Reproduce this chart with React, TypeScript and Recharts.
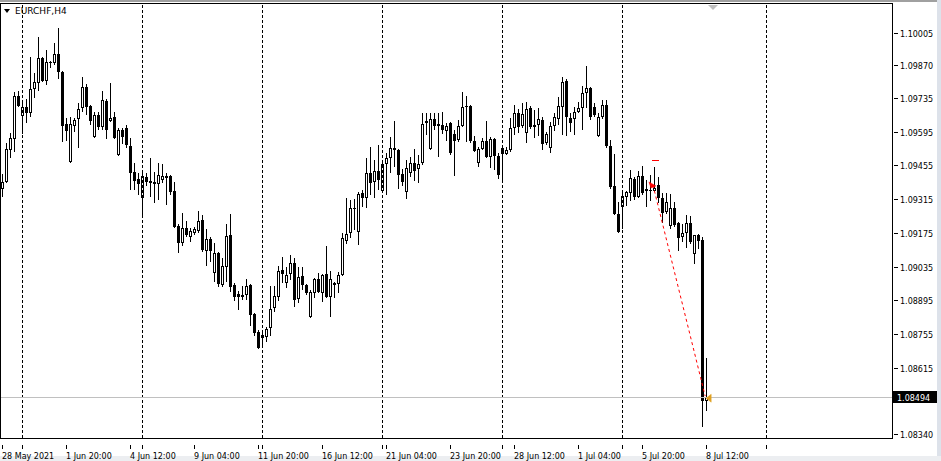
import { ComposedChart, Bar, XAxis, YAxis, ReferenceLine, ReferenceDot } from "recharts";

// EURCHF H4 candles, 28 May 2021 08:00 .. 8 Jul 2021 12:00
const opens = [
  1.09357, 1.09386, 1.09519, 1.09565, 1.09743, 1.09660, 1.09697, 1.09672, 1.09772, 1.09797,
  1.09901, 1.09805, 1.09884, 1.09880, 1.09917, 1.09843, 1.09627, 1.09469, 1.09619, 1.09648,
  1.09693, 1.09780, 1.09702, 1.09573, 1.09664, 1.09614, 1.09722, 1.09639, 1.09656, 1.09498,
  1.09602, 1.09610, 1.09536, 1.09428, 1.09399, 1.09320, 1.09407, 1.09391, 1.09386, 1.09378,
  1.09395, 1.09411, 1.09411, 1.09349, 1.09204, 1.09134, 1.09196, 1.09158, 1.09175, 1.09183,
  1.09229, 1.09100, 1.09150, 1.09009, 1.09092, 1.08959, 1.09034, 1.09167, 1.08959, 1.08922,
  1.08918, 1.08918, 1.08959, 1.08839, 1.08765, 1.08740, 1.08744, 1.08781, 1.08864, 1.08910,
  1.09022, 1.08968, 1.09005, 1.09051, 1.08901, 1.08997, 1.08959, 1.08827, 1.08926, 1.08984,
  1.08926, 1.09005, 1.08910, 1.08968, 1.08964, 1.09001, 1.09142, 1.09175, 1.09274, 1.09179,
  1.09341, 1.09320, 1.09424, 1.09386, 1.09432, 1.09349, 1.09461, 1.09486, 1.09519, 1.09519,
  1.09420, 1.09345, 1.09424, 1.09465, 1.09440, 1.09465, 1.09631, 1.09523, 1.09648, 1.09627,
  1.09623, 1.09598, 1.09631, 1.09585, 1.09561, 1.09619, 1.09697, 1.09702, 1.09556, 1.09465,
  1.09523, 1.09556, 1.09490, 1.09565, 1.09494, 1.09527, 1.09503, 1.09519, 1.09610, 1.09672,
  1.09619, 1.09590, 1.09693, 1.09623, 1.09623, 1.09644, 1.09548, 1.09527, 1.09619, 1.09648,
  1.09697, 1.09805, 1.09652, 1.09648, 1.09677, 1.09693, 1.09755, 1.09776, 1.09697, 1.09577,
  1.09656, 1.09706, 1.09536, 1.09370, 1.09254, 1.09283, 1.09324, 1.09341, 1.09399, 1.09324,
  1.09411, 1.09357, 1.09353, 1.09349, 1.09374, 1.09320, 1.09262, 1.09204, 1.09279, 1.09216,
  1.09158, 1.09175, 1.09216, 1.09088, 1.09167, 1.09146, 1.08479,
];
const highs = [
  1.09420, 1.09548, 1.09590, 1.09760, 1.09764, 1.09726, 1.09730, 1.09905, 1.09838, 1.09988,
  1.09905, 1.09934, 1.09888, 1.09963, 1.10025, 1.09847, 1.09652, 1.09656, 1.09652, 1.09714,
  1.09822, 1.09793, 1.09706, 1.09677, 1.09677, 1.09764, 1.09730, 1.09797, 1.09677, 1.09610,
  1.09610, 1.09623, 1.09569, 1.09465, 1.09424, 1.09424, 1.09424, 1.09486, 1.09428, 1.09465,
  1.09461, 1.09424, 1.09415, 1.09386, 1.09212, 1.09258, 1.09225, 1.09196, 1.09200, 1.09266,
  1.09250, 1.09192, 1.09158, 1.09134, 1.09096, 1.09071, 1.09212, 1.09254, 1.08968, 1.08935,
  1.08955, 1.08984, 1.08964, 1.08843, 1.08773, 1.08769, 1.08785, 1.08955, 1.08955, 1.09038,
  1.09076, 1.09034, 1.09084, 1.09071, 1.09034, 1.09034, 1.08964, 1.08939, 1.08988, 1.09009,
  1.09005, 1.09121, 1.09017, 1.08972, 1.09013, 1.09175, 1.09320, 1.09312, 1.09316, 1.09345,
  1.09353, 1.09486, 1.09532, 1.09478, 1.09540, 1.09478, 1.09507, 1.09573, 1.09639, 1.09523,
  1.09440, 1.09478, 1.09490, 1.09523, 1.09498, 1.09672, 1.09672, 1.09672, 1.09672, 1.09672,
  1.09677, 1.09631, 1.09635, 1.09602, 1.09644, 1.09760, 1.09743, 1.09706, 1.09577, 1.09532,
  1.09569, 1.09639, 1.09573, 1.09569, 1.09507, 1.09532, 1.09532, 1.09652, 1.09706, 1.09689,
  1.09714, 1.09718, 1.09702, 1.09685, 1.09693, 1.09656, 1.09594, 1.09635, 1.09672, 1.09739,
  1.09822, 1.09813, 1.09672, 1.09697, 1.09718, 1.09784, 1.09867, 1.09780, 1.09714, 1.09672,
  1.09726, 1.09726, 1.09561, 1.09503, 1.09304, 1.09345, 1.09349, 1.09436, 1.09407, 1.09432,
  1.09453, 1.09395, 1.09415, 1.09449, 1.09407, 1.09341, 1.09341, 1.09337, 1.09304, 1.09221,
  1.09212, 1.09250, 1.09246, 1.09167, 1.09171, 1.09158, 1.08657,
];
const lows = [
  1.09324, 1.09382, 1.09486, 1.09511, 1.09697, 1.09585, 1.09631, 1.09656, 1.09735, 1.09764,
  1.09801, 1.09789, 1.09859, 1.09872, 1.09813, 1.09552, 1.09556, 1.09465, 1.09594, 1.09527,
  1.09677, 1.09664, 1.09623, 1.09569, 1.09602, 1.09602, 1.09565, 1.09635, 1.09565, 1.09494,
  1.09544, 1.09527, 1.09353, 1.09353, 1.09333, 1.09241, 1.09370, 1.09324, 1.09299, 1.09312,
  1.09382, 1.09291, 1.09333, 1.09196, 1.09092, 1.09121, 1.09158, 1.09138, 1.09167, 1.09175,
  1.09096, 1.09038, 1.09055, 1.08972, 1.08951, 1.08951, 1.08972, 1.08930, 1.08893, 1.08856,
  1.08897, 1.08897, 1.08789, 1.08748, 1.08694, 1.08698, 1.08723, 1.08748, 1.08847, 1.08893,
  1.08968, 1.08947, 1.08980, 1.08868, 1.08885, 1.08939, 1.08918, 1.08823, 1.08906, 1.08926,
  1.08889, 1.08906, 1.08827, 1.08906, 1.08926, 1.08997, 1.09129, 1.09154, 1.09187, 1.09125,
  1.09283, 1.09279, 1.09333, 1.09320, 1.09353, 1.09341, 1.09333, 1.09424, 1.09449, 1.09357,
  1.09370, 1.09316, 1.09407, 1.09391, 1.09382, 1.09457, 1.09581, 1.09519, 1.09602, 1.09490,
  1.09585, 1.09556, 1.09498, 1.09411, 1.09552, 1.09614, 1.09552, 1.09548, 1.09511, 1.09449,
  1.09519, 1.09486, 1.09444, 1.09436, 1.09399, 1.09395, 1.09498, 1.09511, 1.09581, 1.09590,
  1.09610, 1.09548, 1.09606, 1.09569, 1.09577, 1.09519, 1.09540, 1.09507, 1.09598, 1.09623,
  1.09581, 1.09577, 1.09594, 1.09581, 1.09672, 1.09602, 1.09693, 1.09644, 1.09656, 1.09573,
  1.09648, 1.09527, 1.09357, 1.09250, 1.09175, 1.09192, 1.09287, 1.09308, 1.09312, 1.09320,
  1.09333, 1.09283, 1.09308, 1.09345, 1.09299, 1.09216, 1.09254, 1.09192, 1.09200, 1.09100,
  1.09138, 1.09113, 1.09129, 1.09046, 1.09109, 1.08371, 1.08437,
];
const closes = [
  1.09386, 1.09523, 1.09569, 1.09743, 1.09702, 1.09697, 1.09672, 1.09772, 1.09801, 1.09901,
  1.09805, 1.09884, 1.09880, 1.09917, 1.09843, 1.09619, 1.09598, 1.09627, 1.09644, 1.09689,
  1.09780, 1.09697, 1.09639, 1.09664, 1.09614, 1.09726, 1.09602, 1.09652, 1.09569, 1.09602,
  1.09573, 1.09540, 1.09424, 1.09391, 1.09378, 1.09411, 1.09386, 1.09382, 1.09378, 1.09415,
  1.09411, 1.09403, 1.09345, 1.09200, 1.09134, 1.09196, 1.09167, 1.09183, 1.09192, 1.09225,
  1.09105, 1.09150, 1.09100, 1.09092, 1.08964, 1.09038, 1.09163, 1.08951, 1.08910, 1.08910,
  1.08910, 1.08955, 1.08835, 1.08760, 1.08698, 1.08752, 1.08777, 1.08860, 1.08914, 1.09017,
  1.09005, 1.09001, 1.09051, 1.08897, 1.08993, 1.08959, 1.08926, 1.08930, 1.08984, 1.08930,
  1.09001, 1.08910, 1.08984, 1.08959, 1.09001, 1.09154, 1.09171, 1.09279, 1.09279, 1.09337,
  1.09320, 1.09424, 1.09382, 1.09432, 1.09395, 1.09461, 1.09486, 1.09527, 1.09527, 1.09415,
  1.09386, 1.09444, 1.09465, 1.09432, 1.09461, 1.09627, 1.09639, 1.09648, 1.09619, 1.09619,
  1.09602, 1.09619, 1.09507, 1.09556, 1.09619, 1.09697, 1.09702, 1.09556, 1.09515, 1.09523,
  1.09556, 1.09490, 1.09565, 1.09494, 1.09415, 1.09503, 1.09519, 1.09610, 1.09672, 1.09614,
  1.09668, 1.09689, 1.09614, 1.09614, 1.09648, 1.09544, 1.09585, 1.09619, 1.09656, 1.09702,
  1.09801, 1.09656, 1.09631, 1.09677, 1.09693, 1.09755, 1.09776, 1.09656, 1.09664, 1.09656,
  1.09706, 1.09536, 1.09366, 1.09254, 1.09179, 1.09328, 1.09345, 1.09403, 1.09324, 1.09411,
  1.09341, 1.09349, 1.09349, 1.09362, 1.09320, 1.09258, 1.09304, 1.09279, 1.09208, 1.09154,
  1.09175, 1.09216, 1.09138, 1.09167, 1.09142, 1.08479, 1.08494,
];

// bars + empty shift area on the right
const slotCount = 223;
const dateTickIndex = [0, 16, 32, 48, 64, 80, 96, 112, 128, 144, 160, 176];
const dateTickLabels = [
  "28 May 2021", "1 Jun 20:00", "4 Jun 12:00", "9 Jun 04:00", "11 Jun 20:00", "16 Jun 12:00",
  "21 Jun 04:00", "23 Jun 20:00", "28 Jun 12:00", "1 Jul 04:00", "5 Jul 20:00", "8 Jul 12:00",
];
const weekSeparators = [5, 35, 65, 95, 125, 155, 191];
const priceTicks = [
  1.10005, 1.0987, 1.09735, 1.09595, 1.09455, 1.09315, 1.09175, 1.09035, 1.08895, 1.08755, 1.08615, 1.0834,
];
const priceDomain = [1.08325, 1.10128];
const lastPrice = 1.08494;
// closed sell order: open point -> close point, plus its stop level marker
const tradeIndex = [162.5, 175.5];
const tradePrice = [1.09374, 1.08499];
const stopIndex = [162.25, 164];
const stopPrice = 1.09474;

const FONT = "'DejaVu Sans', sans-serif";

const rows = Array.from({ length: slotCount }, (_, i) =>
  i < opens.length
    ? { i, open: opens[i], high: highs[i], low: lows[i], close: closes[i], range: [lows[i], highs[i]] }
    : { i }
);

function Candle(props: any) {
  const { x, y, width, height, payload } = props;
  if (!payload || payload.open == null || height == null || isNaN(y)) return null;
  const { open, high, low, close } = payload;
  const top = Math.min(y, y + height);
  const h = Math.abs(height);
  const k = h / (high - low);
  const py = (p: number) => top + (high - p) * k;
  const cx = Math.round(x + width / 2);
  const wTop = Math.round(top);
  const wBot = Math.round(top + h);
  const bTop = Math.round(py(Math.max(open, close)));
  const bBot = Math.round(py(Math.min(open, close)));
  const bh = Math.max(1, bBot - bTop);
  return (
    <g shapeRendering="crispEdges">
      <rect x={cx} y={wTop} width={1} height={Math.max(1, wBot - wTop)} fill="#000" />
      <rect x={cx - 1} y={bTop} width={3} height={bh} fill="#000" />
      {close > open && bh > 2 && <rect x={cx} y={bTop + 1} width={1} height={bh - 2} fill="#fff" />}
    </g>
  );
}

function DateTick(props: any) {
  const { x, y, payload } = props;
  const idx = payload.value as number;
  const li = dateTickIndex.indexOf(idx);
  if (li < 0 && !weekSeparators.includes(idx)) return null;
  const px = Math.round(x);
  return (
    <g>
      <rect x={px} y={y - 1} width={1} height={4} fill="#000" shapeRendering="crispEdges" />
      {li >= 0 && (
        <text x={px} y={y + 13} fontSize={8} fontFamily={FONT} fill="#000" textAnchor="start">
          {dateTickLabels[li]}
        </text>
      )}
    </g>
  );
}

function PriceTick(props: any) {
  const { x, y, payload } = props;
  const py = Math.round(y);
  return (
    <g>
      <rect x={x - 6} y={py} width={4} height={1} fill="#000" shapeRendering="crispEdges" />
      <text x={x} y={py + 3.5} fontSize={8} fontFamily={FONT} fill="#000" textAnchor="start">
        {Number(payload.value).toFixed(5)}
      </text>
    </g>
  );
}

function PriceTag(props: any) {
  const vb = props.viewBox || {};
  const right = vb.x + vb.width;
  const yy = Math.round(vb.y);
  return (
    <g>
      <rect x={right + 1} y={yy - 6} width={44} height={12} fill="#000" shapeRendering="crispEdges" />
      <text x={right + 5} y={yy + 3.5} fontSize={8} fontFamily={FONT} fill="#fff">
        {lastPrice.toFixed(5)}
      </text>
    </g>
  );
}

function Arrow(props: any) {
  const { cx, cy, tone, dir } = props;
  if (cx == null || cy == null) return null;
  const d = dir === "left"
    ? `M${cx - 3},${cy} L${cx + 2},${cy - 4} L${cx + 2},${cy + 4} Z`
    : `M${cx - 4},${cy - 3} L${cx + 3},${cy + 1} L${cx - 2},${cy + 3} Z`;
  return <path d={d} fill={tone} stroke={tone} strokeWidth={0.5} />;
}

export default function App() {
  return (
    <div style={{ position: "fixed", left: 0, top: 0, width: 941, height: 461, background: "#fff", overflow: "hidden" }}>
      <div style={{ position: "absolute", left: 0, top: 0, width: 941, height: 2, background: "#a0a0a0" }} />
      <div style={{ position: "absolute", left: 937, top: 0, width: 4, height: 461, background: "#dde2ea" }} />
      <div style={{ position: "absolute", left: 0, top: 456, width: 941, height: 5, background: "#eceef1" }} />
      <div style={{ position: "absolute", left: 0, top: 0 }}>
        <ComposedChart
          width={941}
          height={461}
          data={rows}
          margin={{ top: 3, right: 0, bottom: 0, left: 0 }}
          barCategoryGap={0}
        >
          <XAxis
            dataKey="i"
            type="category"
            height={23}
            interval={0}
            axisLine={false}
            tickLine={false}
            tick={<DateTick />}
          />
          <XAxis xAxisId="pos" type="number" domain={[-0.5, slotCount - 0.5]} hide />
          <YAxis
            orientation="right"
            type="number"
            width={49}
            domain={priceDomain}
            allowDataOverflow
            ticks={priceTicks}
            interval={0}
            axisLine={false}
            tickLine={false}
            tick={<PriceTick />}
          />
          {weekSeparators.map((w) => (
            <ReferenceLine key={w} x={w} stroke="#000" strokeDasharray="3 2" shapeRendering="crispEdges" />
          ))}
          <ReferenceLine y={lastPrice} stroke="#c0c0c0" shapeRendering="crispEdges" label={<PriceTag />} />
          <Bar dataKey="range" barSize={4} isAnimationActive={false} shape={<Candle />} />
          <ReferenceLine
            xAxisId="pos"
            segment={[{ x: tradeIndex[0], y: tradePrice[0] }, { x: tradeIndex[1], y: tradePrice[1] }]}
            stroke="#ff0000"
            strokeDasharray="3 3"
          />
          <ReferenceLine
            xAxisId="pos"
            segment={[{ x: stopIndex[0], y: stopPrice }, { x: stopIndex[1], y: stopPrice }]}
            stroke="#ff0000"
            shapeRendering="crispEdges"
          />
          <ReferenceDot xAxisId="pos" x={tradeIndex[0]} y={tradePrice[0]} r={3} shape={(p: any) => <Arrow {...p} tone="#ff0000" dir="down" />} />
          <ReferenceDot xAxisId="pos" x={tradeIndex[1] + 1} y={lastPrice - 0.00004} r={3} shape={(p: any) => <Arrow {...p} tone="#e0a020" dir="left" />} />
        </ComposedChart>
      </div>
      {/* chart frame */}
      <div style={{ position: "absolute", left: 0, top: 3, width: 893, height: 436, boxSizing: "border-box", border: "1px solid #000", pointerEvents: "none" }} />
      {/* chart shift marker */}
      <div style={{ position: "absolute", left: 708, top: 5, width: 0, height: 0, borderLeft: "5px solid transparent", borderRight: "5px solid transparent", borderTop: "5px solid #c0c0c0" }} />
      <div style={{ position: "absolute", left: 4, top: 9, width: 0, height: 0, borderLeft: "3px solid transparent", borderRight: "3px solid transparent", borderTop: "4px solid #000" }} />
      <div style={{ position: "absolute", left: 15, top: 5, fontFamily: FONT, fontSize: 9, color: "#000", lineHeight: "12px" }}>
        {"EURCHF,H4"}
      </div>
    </div>
  );
}
